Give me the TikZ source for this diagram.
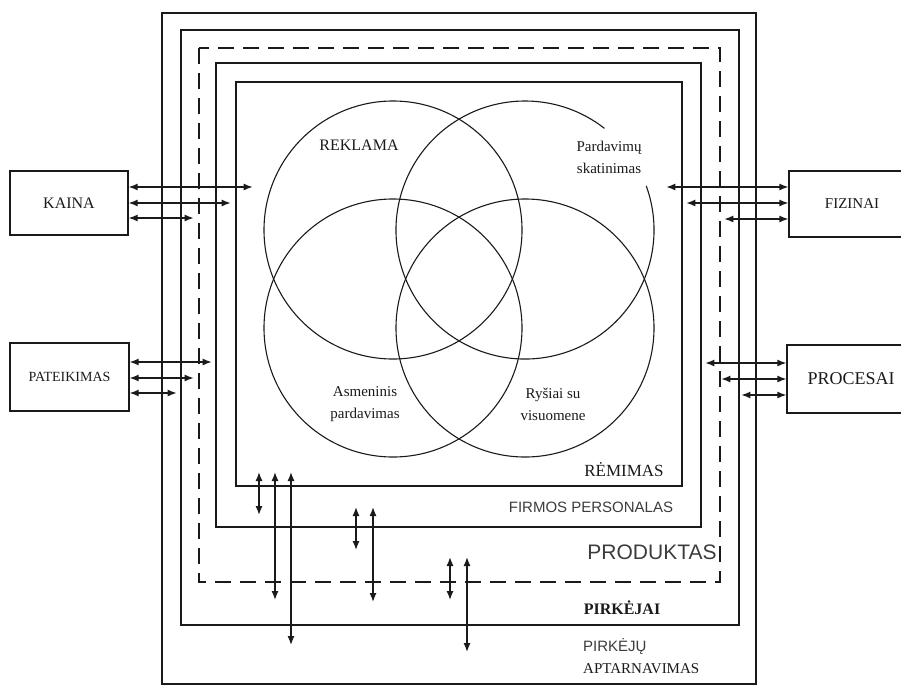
\documentclass[tikz,border=0pt]{standalone}
\usepackage{fontspec}
\setmainfont{Liberation Serif}
\setsansfont{Liberation Sans}
\usepackage{tikz}
\usetikzlibrary{arrows.meta,calc}
\definecolor{MixInk}{HTML}{1A1A1A}
\definecolor{MixGrey}{HTML}{3C3C3C}
\newcommand{\fsz}[2]{\fontsize{#1}{#2}\selectfont}

\begin{document}
\begin{tikzpicture}[
  x=1pt, y=-1pt,
  every node/.style={font=\fsz{15}{22}, text=MixInk, inner sep=0pt},
  box/.style={draw=MixInk, line width=1.3pt},
  layer/.style={draw=MixInk, line width=1.3pt},
  venn/.style={draw=MixInk, line width=1.1pt},
  biarrow/.style={{Latex[length=9pt,width=7pt]}-{Latex[length=9pt,width=7pt]}, line width=1.3pt, color=MixInk}
]
\useasboundingbox (0,0) rectangle (901,686);

\draw[layer] (162,13) rectangle (756,684);
\draw[layer] (181,30) rectangle (739,625);
\draw[layer, dash pattern=on 16pt off 9pt] (199,48) rectangle (720,582);
\draw[layer] (216,63) rectangle (701,527);
\draw[layer] (236,82) rectangle (682,486);

\draw[venn] (393,230) circle[radius=129];
\draw[venn] (525,230) ++(-20:129) arc[start angle=-20, end angle=308, radius=129];
\draw[venn] (393,328) circle[radius=129];
\draw[venn] (525,328) circle[radius=129];

\node (reklama) at (359,145) {\fsz{16}{22}REKLAMA};
\node[align=center] (skatinimas) at (609,157) {Pardavimų\\skatinimas};
\node[align=center] (asmeninis) at (365,404) {Asmeninis\\pardavimas};
\node[align=center] (rysiai) at (553,404) {Ryšiai su\\visuomene};
\node (remimas) at (624,470) {\fsz{17}{22}RĖMIMAS};
\node (personalas) at (591,507) {\sffamily\color{MixGrey}FIRMOS PERSONALAS};
\node (produktas) at (652,552) {\sffamily\fsz{21}{24}\color{MixGrey}PRODUKTAS};
\node (pirkejai) at (622,608) {\fsz{16}{22}\bfseries PIRKĖJAI};
\node[align=left, anchor=west] (aptarnavimas) at (583,656) {\sffamily\color{MixGrey}PIRKĖJŲ\\APTARNAVIMAS};

\node[box, minimum width=118pt, minimum height=64pt] (kaina) at (69,203) {\fsz{16}{22}KAINA};
\node[box, minimum width=119pt, minimum height=68pt] (pateikimas) at (69.5,377) {\fsz{14}{22}PATEIKIMAS};
\node[box, minimum width=126pt, minimum height=66pt] (fizinai) at (852,204) {FIZINAI};
\node[box, minimum width=128pt, minimum height=68pt] (procesai) at (851,379) {\fsz{18}{22}PROCESAI};

\foreach \dy/\len in {-16/124, 0/102, 15/65}
  \draw[biarrow] ($(kaina.east)+(0,\dy)$) -- ++(\len,0);
\foreach \dy/\len in {-15/82, 1/64, 16/47}
  \draw[biarrow] ($(pateikimas.east)+(0,\dy)$) -- ++(\len,0);
\foreach \dy/\len in {-17/122, -1/102, 15/64}
  \draw[biarrow] ($(fizinai.west)+(0,\dy)$) -- ++(-\len,0);
\foreach \dy/\len in {-16/81, 0/65, 16/45}
  \draw[biarrow] ($(procesai.west)+(0,\dy)$) -- ++(-\len,0);

\foreach \x/\ya/\yb in {259/472/515, 275/472/600, 291/472/645, 356/507/550, 373/507/602, 450/557/600, 467/557/652}
  \draw[biarrow] (\x,\ya) -- (\x,\yb);
\end{tikzpicture}
\end{document}
